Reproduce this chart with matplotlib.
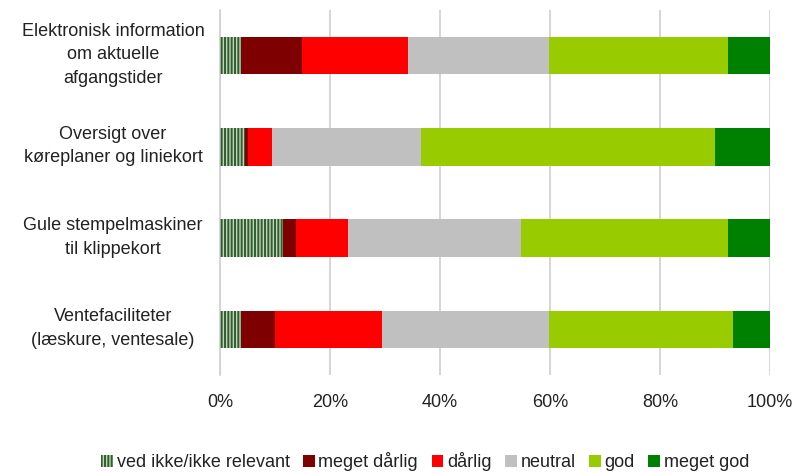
import matplotlib.pyplot as plt
import matplotlib.transforms as mtransforms
import numpy as np

plt.rcParams['font.family'] = ['Liberation Sans', 'DejaVu Sans']
plt.rcParams['hatch.linewidth'] = 1.4

categories = ["Elektronisk information\nom aktuelle\nafgangstider",
              "Oversigt over\nkøreplaner og liniekort",
              "Gule stempelmaskiner\ntil klippekort",
              "Ventefaciliteter\n(læskure, ventesale)"]
series_names = ["ved ikke/ikke relevant", "meget dårlig", "dårlig", "neutral", "god", "meget god"]
ved_ikke = [3.8, 4.5, 11.4, 3.9]
meget_darlig = [11.1, 0.6, 2.5, 6.1]
darlig = [19.3, 4.4, 9.4, 19.5]
neutral = [25.6, 27.0, 31.4, 30.3]
god = [32.6, 53.5, 37.7, 33.5]
meget_god = [7.6, 10.0, 7.6, 6.7]

colors = ["#c4d4bc", "#7f0000", "#ff0000", "#c0c0c0", "#99cc00", "#008000"]

fig = plt.figure(figsize=(7.93, 4.74), dpi=100)
ax = fig.add_axes([0.2774, 0.2089, 0.6936, 0.7700])

y = np.arange(len(categories))
left = np.zeros(len(categories))
for name, vals, col in zip(series_names,
                           [ved_ikke, meget_darlig, darlig, neutral, god, meget_god],
                           colors):
    vals = np.array(vals)
    if name.startswith("ved"):
        ax.barh(y, vals, left=left, height=0.41, color=col, edgecolor="#2e5e2e",
                hatch="|||||", linewidth=0, label=name, zorder=3)
    else:
        ax.barh(y, vals, left=left, height=0.41, color=col, linewidth=0,
                label=name, zorder=3)
    left += vals

ax.set_xlim(0, 100)
ax.set_ylim(len(categories) - 0.5, -0.5)
ax.set_xticks([0, 20, 40, 60, 80, 100])
ax.set_xticklabels(["0%", "20%", "40%", "60%", "80%", "100%"], fontsize=13, color="#222222")
ax.set_yticks(y)
ax.set_yticklabels(categories, fontsize=13, color="#222222", ha="center", linespacing=1.5)
ax.tick_params(axis="y", length=0, pad=77)
ax.tick_params(axis="x", length=0, pad=14)

# nudge category labels up a little
shift = mtransforms.ScaledTranslation(0, 6 / 100, fig.dpi_scale_trans)
for lbl in ax.get_yticklabels():
    lbl.set_transform(lbl.get_transform() + shift)

ax.grid(axis="x", color="#d0d0d0", linewidth=1.2, zorder=0)
for s in ["top", "right", "bottom"]:
    ax.spines[s].set_visible(False)
ax.spines["left"].set_color("#d0d0d0")
ax.spines["left"].set_linewidth(1.2)

fig.legend(loc="center", bbox_to_anchor=(0.536, 0.026), ncol=6, frameon=False,
           fontsize=13, handlelength=0.65, handleheight=0.65, handletextpad=0.2,
           columnspacing=0.75, labelcolor="#222222")

fig.savefig("out.png", dpi=100)
